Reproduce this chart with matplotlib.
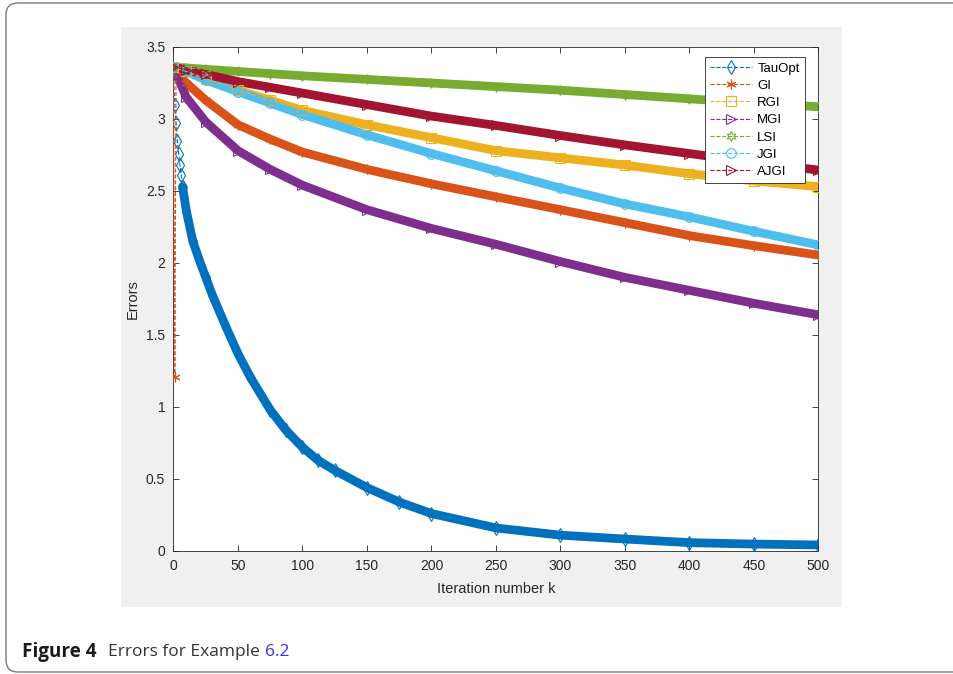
import numpy as np
import matplotlib
matplotlib.use("Agg")
import matplotlib.pyplot as plt
from matplotlib.patches import Rectangle, FancyBboxPatch
from matplotlib.transforms import IdentityTransform

# values (iteration k -> error)
k_tau = [0, 1, 2, 3, 4, 5, 6, 7, 10, 15, 20, 25, 30, 40, 50, 60, 75, 87, 100, 112, 125,
         150, 175, 200, 250, 300, 350, 400, 450, 500]
tauopt = [3.35, 3.10, 2.97, 2.85, 2.76, 2.68, 2.61, 2.53, 2.36, 2.15, 2.02, 1.90, 1.78,
          1.57, 1.37, 1.20, 0.98, 0.84, 0.72, 0.63, 0.56, 0.44, 0.34, 0.26, 0.16, 0.11,
          0.083, 0.058, 0.048, 0.042]

k_gi = [0, 1, 2, 10, 25, 50, 75, 100, 150, 200, 250, 300, 350, 400, 450, 500]
gi = [3.35, 1.21, 3.33, 3.25, 3.13, 2.96, 2.86, 2.77, 2.65, 2.55, 2.46, 2.37, 2.28,
      2.19, 2.12, 2.055]

k_all = [0, 10, 25, 50, 75, 100, 150, 200, 250, 300, 350, 400, 450, 500]
rgi = [3.36, 3.33, 3.28, 3.20, 3.13, 3.06, 2.96, 2.87, 2.78, 2.73, 2.68, 2.62, 2.57, 2.53]
mgi = [3.36, 3.15, 2.98, 2.78, 2.65, 2.54, 2.37, 2.24, 2.13, 2.01, 1.90, 1.81, 1.72, 1.64]
lsi = [3.36, 3.355, 3.345, 3.33, 3.315, 3.30, 3.275, 3.25, 3.225, 3.20, 3.17, 3.14,
       3.11, 3.085]
jgi = [3.36, 3.33, 3.27, 3.19, 3.11, 3.03, 2.89, 2.76, 2.64, 2.52, 2.41, 2.32, 2.22, 2.125]
ajgi = [3.36, 3.34, 3.31, 3.26, 3.22, 3.18, 3.10, 3.02, 2.955, 2.885, 2.82, 2.76, 2.70,
        2.645]

labels = ["TauOpt", "GI", "RGI", "MGI", "LSI", "JGI", "AJGI"]
colors = ["#0072BD", "#D95319", "#EDB120", "#7E2F8E", "#77AC30", "#4DBEEE", "#A2142F"]
markers = ["d", (6, 2, 0), "s", ">", (6, 1, 0), "o", ">"]

# (k, values, index where the dense marker band starts)
series = [(k_tau, tauopt, 7), (k_gi, gi, 2), (k_all, rgi, 0), (k_all, mgi, 0),
          (k_all, lsi, 0), (k_all, jgi, 0), (k_all, ajgi, 0)]

plt.rcParams['font.family'] = ['Liberation Sans', 'DejaVu Sans']

fig = plt.figure(figsize=(9.54, 6.74), dpi=100)
W, H = 954, 674

# rounded outer frame + grey matlab figure panel
frame = FancyBboxPatch((6, 2), 1000, 669, boxstyle="round,pad=0,rounding_size=12",
                       transform=IdentityTransform(), facecolor="white",
                       edgecolor="#7a7a7a", lw=1.0, zorder=0)
fig.add_artist(frame)
panel = Rectangle((121 / W, (H - 607) / H), 721 / W, 580 / H, transform=fig.transFigure,
                  facecolor="#f0f0f0", edgecolor="none", zorder=0.5)
fig.add_artist(panel)

ax = fig.add_axes([173.5 / W, (H - 551) / H, 645 / W, 504 / H])
ax.set_zorder(2)

lines = []
for (kk, vv, start), lab, c, m in zip(series, labels, colors, markers):
    # thick band imitating the overlapping per-iteration markers
    ax.plot(kk[start:], vv[start:], color=c, lw=6.3, solid_capstyle="round",
            solid_joinstyle="round", zorder=2)
    ln, = ax.plot(kk, vv, linestyle="--", lw=0.8, color=c, marker=m, markersize=7,
                  markerfacecolor="none", markeredgecolor=c, markeredgewidth=0.8,
                  label=lab, zorder=3)
    lines.append(ln)

ax.set_xlim(0, 500)
ax.set_ylim(0, 3.5)
ax.set_xticks(np.arange(0, 501, 50))
ax.set_yticks(np.arange(0, 3.51, 0.5))
ax.set_yticklabels(["0", "0.5", "1", "1.5", "2", "2.5", "3", "3.5"])
ax.tick_params(direction="in", top=True, right=True, length=4, width=0.6,
               labelsize=10, colors="#262626", pad=6)
for s in ax.spines.values():
    s.set_color("#262626")
    s.set_linewidth(0.6)

ax.set_xlabel("Iteration number k", fontsize=10.5, color="#262626", labelpad=6)
ax.set_ylabel("Errors", fontsize=10.5, color="#262626", labelpad=4)

leg = ax.legend(handles=lines, loc="upper right", bbox_to_anchor=(0.979, 0.98),
                borderaxespad=0, fontsize=9.5, frameon=True, fancybox=False,
                framealpha=1, edgecolor="#262626", handlelength=3.2, handletextpad=0.4,
                labelspacing=0.38, borderpad=0.4, numpoints=1)
leg.get_frame().set_linewidth(0.6)

# caption
fig.text(22 / W, (H - 652) / H, "Figure 4", fontsize=13.6, fontweight="bold",
         family=["Open Sans", "DejaVu Sans"], va="center", color="#1a1a1a")
fig.text(108 / W, (H - 652) / H, "Errors for Example", fontsize=12.5,
         family=["Open Sans", "DejaVu Sans"], va="center", color="#333333")
fig.text(265 / W, (H - 652) / H, "6.2", fontsize=12.5,
         family=["Open Sans", "DejaVu Sans"], va="center", color="#3333ee")

fig.savefig("out.png", dpi=100)
